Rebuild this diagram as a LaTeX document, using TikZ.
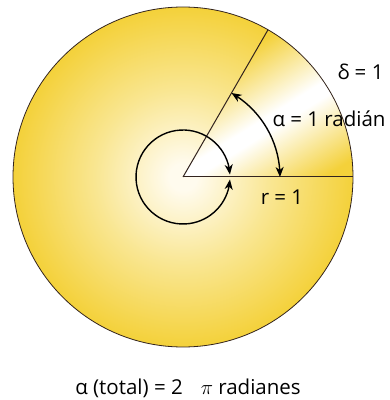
\documentclass[tikz,border=0pt]{standalone}
\usepackage{fontspec}
\setmainfont{Open Sans}
\usetikzlibrary{calc,arrows.meta,bending}

\definecolor{discyellow}{RGB}{244,209,58}
\definecolor{discpale}{RGB}{249,230,145}
\definecolor{disccream}{RGB}{255,251,238}
\definecolor{discline}{RGB}{50,35,30}
\pgfdeclareradialshading{discglow}{\pgfpoint{0bp}{0bp}}{color(0bp)=(disccream);color(2bp)=(disccream);color(13bp)=(discpale);color(25bp)=(discyellow);color(50bp)=(discyellow)}
\pgfdeclareverticalshading{sectorband}{100bp}{color(0bp)=(discyellow);color(39bp)=(discyellow);color(49bp)=(white);color(51bp)=(white);color(61bp)=(discyellow);color(100bp)=(discyellow)}

\begin{document}
\begin{tikzpicture}[x=1pt,y=1pt,line width=1pt,>={Stealth[length=10pt,width=8pt,inset=3pt]},
  lbl/.style={inner sep=0pt,font=\fontsize{20.5}{24}\selectfont}]
  \useasboundingbox (0,0) rectangle (390,400);
  \coordinate (O) at (183,223);
  \coordinate (E) at ($(O)+(0:170)$);
  \coordinate (F) at ($(O)+(60:170)$);
  \shade[shading=discglow] (O) circle(170);
  \begin{scope}
    \clip (O) -- (E) arc (0:60:170) -- cycle;
    \shade[shading=sectorband,shading angle=32] ($(O)+(-170,-170)$) rectangle ($(O)+(170,170)$);
  \end{scope}
  \draw[discline,line width=0.8pt] (O) circle(170);
  \draw[discline] (O)--(E);
  \draw[discline] (O)--(F);
  \draw[<->,line width=1.4pt] ($(O)+(0:97)$) arc (0:60:97);
  \draw[<->,line width=1.4pt] ($(O)+(3:47)$) arc (3:357:47);
  \node[lbl,anchor=west] (delta) at (337,328) {δ = 1};
  \node[lbl,anchor=west] (alpha) at (272,281) {α = 1 radián};
  \node[lbl] (radius) at (282,203) {r = 1};
  \node[lbl] (total) at (188,12) {α (total) = 2\hspace{18pt}$\pi$ radianes};
\end{tikzpicture}
\end{document}
